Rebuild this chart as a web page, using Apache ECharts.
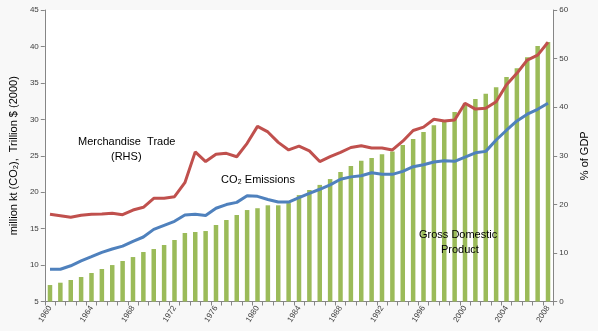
<!DOCTYPE html>
<html>
<head>
<meta charset="utf-8">
<script src="https://cdn.jsdelivr.net/npm/echarts@6/dist/echarts.min.js"></script>
<style>html,body{margin:0;padding:0;background:#f8f8f8;}#c{width:598px;height:331px;}</style>
</head>
<body>
<div id="c"></div>
<script>
const years = [];
for (let y = 1960; y <= 2008; y++) years.push(String(y));

const gdp = [7.26, 7.58, 7.95, 8.36, 8.91, 9.46, 10.0, 10.56, 11.1, 11.79, 12.2, 12.75,
  13.44, 14.4, 14.54, 14.67, 15.5, 16.18, 16.87, 17.55, 17.8, 18.2, 18.2, 18.5,
  19.6, 20.3, 21.0, 21.8, 22.76, 23.6, 24.3, 24.7, 25.2, 25.6, 26.47, 27.3,
  28.25, 29.2, 29.9, 31.0, 32.2, 32.8, 33.5, 34.4, 35.8, 37.0, 38.5, 40.05, 40.6];

const co2 = [9.42, 9.42, 9.9, 10.56, 11.15, 11.75, 12.2, 12.6, 13.26, 13.85, 14.9, 15.45,
  16.0, 16.87, 16.96, 16.8, 17.8, 18.3, 18.6, 19.5, 19.43, 19.0, 18.65, 18.65,
  19.25, 19.85, 20.4, 21.0, 21.77, 22.1, 22.26, 22.67, 22.45, 22.45, 22.86, 23.5,
  23.77, 24.14, 24.3, 24.23, 24.8, 25.4, 25.6, 27.16, 28.5, 29.77, 30.7, 31.37, 32.2];

const trade = [17.95, 17.67, 17.33, 17.74, 17.95, 18.0, 18.15, 17.87, 18.83, 19.39, 21.24, 21.24,
  21.57, 24.46, 30.8, 28.8, 30.3, 30.5, 29.8, 32.56, 36.05, 34.9, 32.75, 31.2,
  32.0, 31.0, 28.8, 29.8, 30.7, 31.7, 32.07, 31.6, 31.6, 31.2, 33.0, 35.2,
  35.9, 37.5, 37.15, 37.36, 40.8, 39.6, 39.76, 41.1, 44.6, 46.97, 49.7, 50.7, 53.35];

const leftTicks = {min: 5, max: 45, interval: 5};
const rightTicks = {min: 0, max: 60, interval: 10};

const FONT = 'Liberation Sans';
const chart = echarts.init(document.getElementById('c'), null, {renderer: 'canvas'});
chart.setOption({
  backgroundColor: '#f8f8f8',
  animation: false,
  textStyle: {fontFamily: FONT},
  grid: {left: 40, right: 37, top: 10, bottom: 29.5, show: true, backgroundColor: '#ffffff', borderWidth: 0},
  xAxis: {
    type: 'category',
    data: years,
    boundaryGap: true,
    axisLine: {lineStyle: {color: '#868686', width: 1}},
    axisTick: {show: true, interval: 0, length: 4, lineStyle: {color: '#868686'}},
    axisLabel: {interval: 3, rotate: 57, fontSize: 8, color: '#404040', margin: 5, fontFamily: FONT}
  },
  yAxis: [
    {
      type: 'value', min: leftTicks.min, max: leftTicks.max, interval: leftTicks.interval,
      name: 'million kt (CO\u2082),  Trillion $ (2000)',
      nameLocation: 'middle', nameGap: 23, nameRotate: 90,
      nameTextStyle: {fontSize: 11, color: '#000', fontFamily: FONT},
      axisLine: {show: true, lineStyle: {color: '#868686'}},
      axisTick: {show: true, length: 4, lineStyle: {color: '#868686'}},
      axisLabel: {fontSize: 8, color: '#404040', margin: 6, fontFamily: FONT},
      splitLine: {show: false}
    },
    {
      type: 'value', min: rightTicks.min, max: rightTicks.max, interval: rightTicks.interval,
      position: 'right',
      name: '% of GDP',
      nameLocation: 'middle', nameGap: 25, nameRotate: 90,
      nameTextStyle: {fontSize: 11, color: '#000', fontFamily: FONT},
      axisLine: {show: true, lineStyle: {color: '#868686'}},
      axisTick: {show: true, length: 4, lineStyle: {color: '#868686'}},
      axisLabel: {fontSize: 8, color: '#404040', margin: 6, fontFamily: FONT},
      splitLine: {show: false}
    }
  ],
  series: [
    {
      name: 'Gross Domestic Product', type: 'bar', data: gdp, yAxisIndex: 0,
      barWidth: 4.5, itemStyle: {color: '#9bbb59'}
    },
    {
      name: 'CO2 Emissions', type: 'line', data: co2, yAxisIndex: 0,
      symbol: 'none', lineStyle: {color: '#4f81bd', width: 3}, itemStyle: {color: '#4f81bd'}
    },
    {
      name: 'Merchandise Trade (RHS)', type: 'line', data: trade, yAxisIndex: 1,
      symbol: 'none', lineStyle: {color: '#c0504d', width: 3}, itemStyle: {color: '#c0504d'}
    }
  ],
  graphic: [
    {type: 'text', z: 100, left: 78, top: 136, style: {text: 'Merchandise  Trade', fontSize: 11, fill: '#000', fontFamily: FONT}},
    {type: 'text', z: 100, left: 111, top: 151, style: {text: '(RHS)', fontSize: 11, fill: '#000', fontFamily: FONT}},
    {type: 'text', z: 100, left: 221, top: 174, style: {text: 'CO\u2082 Emissions', fontSize: 11, fill: '#000', fontFamily: FONT}},
    {type: 'text', z: 100, left: 419, top: 229, style: {text: 'Gross Domestic', fontSize: 11, fill: '#000', fontFamily: FONT}},
    {type: 'text', z: 100, left: 441, top: 244, style: {text: 'Product', fontSize: 11, fill: '#000', fontFamily: FONT}}
  ]
});
</script>
</body>
</html>
